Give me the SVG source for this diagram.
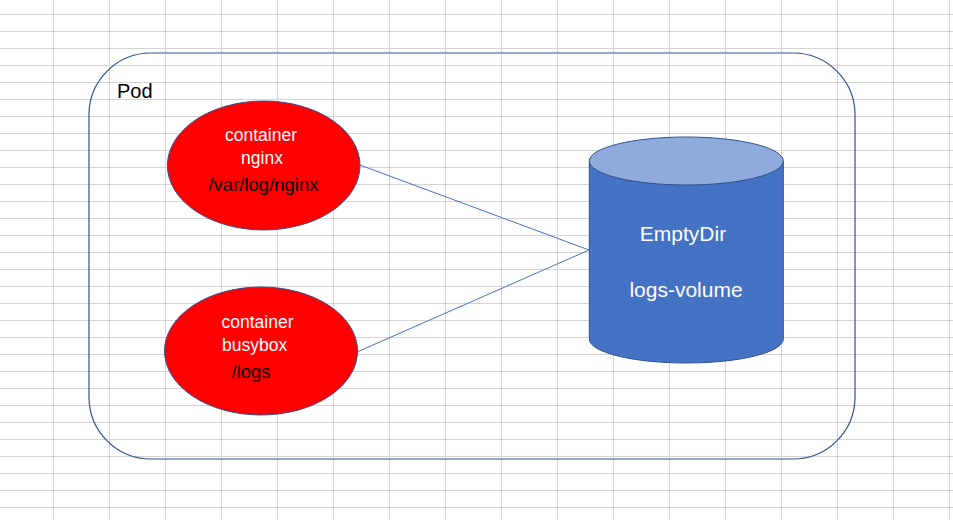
<svg xmlns="http://www.w3.org/2000/svg" width="953" height="520" viewBox="0 0 953 520">
<defs>
<style>
.grid line{stroke:#d4d4d4;stroke-width:1}
.pod{fill:none;stroke:#2f528f;stroke-width:1.2}
.cont{fill:#ff0000;stroke:#2f528f;stroke-width:1}
.conn line{stroke:#4472c4;stroke-width:1}
.wt{fill:#ffffff;font-family:"Liberation Sans",Arial,sans-serif;font-size:17.5px}
.bt{fill:#000000;font-family:"Liberation Sans",Arial,sans-serif;font-size:18.5px}
.vt{fill:#ffffff;font-family:"Liberation Sans",Arial,sans-serif;font-size:21px;text-anchor:middle}
</style>
</defs>
<rect width="953" height="520" fill="#ffffff"/>
<g class="grid" id="grid">
<line x1="53.5" y1="0" x2="53.5" y2="520"/><line x1="109.5" y1="0" x2="109.5" y2="520"/><line x1="165.5" y1="0" x2="165.5" y2="520"/><line x1="221.5" y1="0" x2="221.5" y2="520"/><line x1="277.5" y1="0" x2="277.5" y2="520"/><line x1="333.5" y1="0" x2="333.5" y2="520"/><line x1="389.5" y1="0" x2="389.5" y2="520"/><line x1="445.5" y1="0" x2="445.5" y2="520"/><line x1="501.5" y1="0" x2="501.5" y2="520"/><line x1="557.5" y1="0" x2="557.5" y2="520"/><line x1="613.5" y1="0" x2="613.5" y2="520"/><line x1="669.5" y1="0" x2="669.5" y2="520"/><line x1="725.5" y1="0" x2="725.5" y2="520"/><line x1="781.5" y1="0" x2="781.5" y2="520"/><line x1="837.5" y1="0" x2="837.5" y2="520"/><line x1="893.5" y1="0" x2="893.5" y2="520"/><line x1="949.5" y1="0" x2="949.5" y2="520"/>
<line x1="0" y1="14.5" x2="953" y2="14.5"/><line x1="0" y1="31.5" x2="953" y2="31.5"/><line x1="0" y1="48.5" x2="953" y2="48.5"/><line x1="0" y1="65.5" x2="953" y2="65.5"/><line x1="0" y1="82.5" x2="953" y2="82.5"/><line x1="0" y1="99.5" x2="953" y2="99.5"/><line x1="0" y1="116.5" x2="953" y2="116.5"/><line x1="0" y1="133.5" x2="953" y2="133.5"/><line x1="0" y1="150.5" x2="953" y2="150.5"/><line x1="0" y1="167.5" x2="953" y2="167.5"/><line x1="0" y1="184.5" x2="953" y2="184.5"/><line x1="0" y1="201.5" x2="953" y2="201.5"/><line x1="0" y1="218.5" x2="953" y2="218.5"/><line x1="0" y1="235.5" x2="953" y2="235.5"/><line x1="0" y1="252.5" x2="953" y2="252.5"/><line x1="0" y1="269.5" x2="953" y2="269.5"/><line x1="0" y1="286.5" x2="953" y2="286.5"/><line x1="0" y1="303.5" x2="953" y2="303.5"/><line x1="0" y1="320.5" x2="953" y2="320.5"/><line x1="0" y1="337.5" x2="953" y2="337.5"/><line x1="0" y1="354.5" x2="953" y2="354.5"/><line x1="0" y1="371.5" x2="953" y2="371.5"/><line x1="0" y1="388.5" x2="953" y2="388.5"/><line x1="0" y1="405.5" x2="953" y2="405.5"/><line x1="0" y1="422.5" x2="953" y2="422.5"/><line x1="0" y1="439.5" x2="953" y2="439.5"/><line x1="0" y1="456.5" x2="953" y2="456.5"/><line x1="0" y1="473.5" x2="953" y2="473.5"/><line x1="0" y1="490.5" x2="953" y2="490.5"/><line x1="0" y1="507.5" x2="953" y2="507.5"/>
</g>
<g id="pod">
<rect class="pod" x="89" y="53" width="766" height="406" rx="62" ry="62"/>
<text x="117" y="98" font-family="'Liberation Sans',Arial,sans-serif" font-size="20" fill="#000000">Pod</text>
</g>
<g class="conn" id="connectors">
<line x1="360" y1="165" x2="589" y2="250"/>
<line x1="357" y1="352" x2="589" y2="250"/>
</g>
<g id="nginx">
<ellipse class="cont" cx="263.7" cy="165.5" rx="96.3" ry="64.5"/>
<text class="wt" x="261" y="141" text-anchor="middle">container</text>
<text class="wt" x="262" y="164" text-anchor="middle">nginx</text>
<text class="bt" x="263.5" y="191" text-anchor="middle">/var/log/nginx</text>
</g>
<g id="busybox">
<ellipse class="cont" cx="261" cy="351" rx="96.5" ry="64"/>
<text class="wt" x="221.5" y="328">container</text>
<text class="wt" x="222" y="351">busybox</text>
<text class="bt" x="231.5" y="378">/logs</text>
</g>
<g id="emptydir">
<path d="M589.3,161 L589.3,339 A97,24 0 0 0 783.3,339 L783.3,161 Z" fill="#4472c4" stroke="#2f528f" stroke-width="1"/>
<ellipse cx="686.3" cy="161" rx="97" ry="24" fill="#8faadc" stroke="#2f528f" stroke-width="1"/>
<text class="vt" x="683" y="241">EmptyDir</text>
<text class="vt" x="686" y="297">logs-volume</text>
</g>
</svg>
